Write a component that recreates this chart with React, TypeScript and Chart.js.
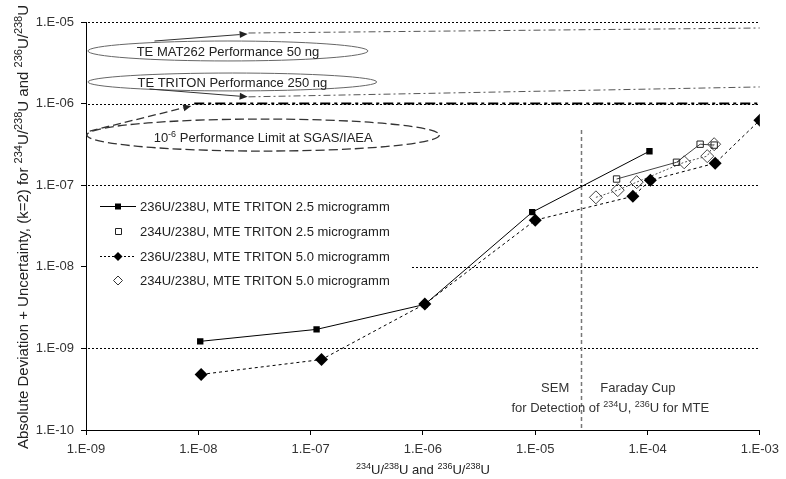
import React, { useEffect, useRef } from 'react';
import { Chart, registerables } from 'chart.js';

Chart.register(...registerables);

const FONT = '"Liberation Sans", Arial, Helvetica, sans-serif';

// ---- axis ticks ----
const xTickValues = [1e-9, 1e-8, 1e-7, 1e-6, 1e-5, 1e-4, 1e-3];
const yTickValues = [1e-10, 1e-9, 1e-8, 1e-7, 1e-6, 1e-5];
const yGridValues = [1e-9, 1e-8, 1e-7, 1e-6, 1e-5];

// ---- series ----
const legendLabels = [
  '236U/238U, MTE TRITON 2.5 microgramm',
  '234U/238U, MTE TRITON 2.5 microgramm',
  '236U/238U, MTE TRITON 5.0 microgramm',
  '234U/238U, MTE TRITON 5.0 microgramm',
];

const u236mte25X = [1.04e-8, 1.13e-7, 1.04e-6, 9.4e-6, 1.04e-4];
const u236mte25Y = [1.22e-9, 1.71e-9, 3.46e-9, 4.67e-8, 2.61e-7];

const u234mte25X = [5.3e-5, 1.81e-4, 2.94e-4, 3.92e-4];
const u234mte25Y = [1.19e-7, 1.91e-7, 3.18e-7, 3.1e-7];

const u236mte50X = [1.06e-8, 1.25e-7, 1.04e-6, 1.0e-5, 7.4e-5, 1.06e-4, 4.0e-4, 1.0e-3];
const u236mte50Y = [4.8e-10, 7.3e-10, 3.5e-9, 3.73e-8, 7.3e-8, 1.15e-7, 1.86e-7, 6.27e-7];

const u234mte50X = [3.47e-5, 5.43e-5, 8.0e-5, 2.12e-4, 3.4e-4, 3.92e-4];
const u234mte50Y = [7.1e-8, 8.7e-8, 1.09e-7, 1.91e-7, 2.27e-7, 3.18e-7];

// ---- performance reference lines ----
const mat262X = [2.8e-8, 1e-3];
const mat262Y = [7.33e-6, 8.44e-6];
const triton250X = [2.8e-8, 1e-3];
const triton250Y = [1.21e-6, 1.6e-6];
const iaeaX = [9.2e-9, 1e-3];
const iaeaY = [1e-6, 1e-6];

// detector switch (SEM / Faraday cup)
const detectorSwitchX = 2.57e-5;
const detectorSwitchY = [1e-10, 4.74e-7];

type Part = [string, boolean];

const ellipseNotes: { x0: number; x1: number; y0: number; y1: number; dashed: boolean; parts: Part[]; dy: number }[] = [
  { x0: 1.04e-9, x1: 3.24e-7, y0: 3.33e-6, y1: 5.85e-6, dashed: false, parts: [['TE MAT262 Performance 50 ng', false]], dy: 0 },
  { x0: 1.04e-9, x1: 3.88e-7, y0: 1.43e-6, y1: 2.37e-6, dashed: false, parts: [['TE TRITON Performance 250 ng', false]], dy: 0 },
  {
    x0: 1.02e-9, x1: 1.4e-6, y0: 2.62e-7, y1: 6.47e-7, dashed: true,
    parts: [['10', false], ['-6', true], [' Performance Limit at SGAS/IAEA', false]], dy: 2,
  },
];

const arrowNotes: { from: [number, number]; to: [number, number]; dashed: boolean }[] = [
  { from: [4.07e-9, 5.85e-6], to: [2.75e-8, 7.13e-6], dashed: false },
  { from: [3.68e-9, 1.51e-6], to: [2.75e-8, 1.21e-6], dashed: false },
  { from: [1.08e-9, 4.61e-7], to: [8.65e-9, 9.35e-7], dashed: true },
];

const xTitle: Part[] = [['234', true], ['U/', false], ['238', true], ['U and ', false], ['236', true], ['U/', false], ['238', true], ['U', false]];
const yTitle: Part[] = [
  ['Absolute Deviation + Uncertainty, (k=2) for ', false], ['234', true], ['U/', false], ['238', true],
  ['U and ', false], ['236', true], ['U/', false], ['238', true], ['U', false],
];
const detectLine: Part[] = [['for Detection of ', false], ['234', true], ['U, ', false], ['236', true], ['U for MTE', false]];

const fmt = (v: number) => {
  const e = Math.round(Math.log10(v));
  return '1.E' + (e < 0 ? '-' : '+') + String(Math.abs(e)).padStart(2, '0');
};

const pts = (xs: number[], ys: number[]) => xs.map((x, i) => ({ x, y: ys[i] }));

function drawRich(ctx: CanvasRenderingContext2D, parts: Part[], x: number, y: number, align: string, size: number) {
  const sup = Math.round(size * 0.7);
  let w = 0;
  parts.forEach(([t, s]) => {
    ctx.font = `${s ? sup : size}px ${FONT}`;
    w += ctx.measureText(t).width;
  });
  let cx = align === 'center' ? x - w / 2 : align === 'right' ? x - w : x;
  ctx.textAlign = 'left';
  ctx.textBaseline = 'alphabetic';
  parts.forEach(([t, s]) => {
    ctx.font = `${s ? sup : size}px ${FONT}`;
    ctx.fillText(t, cx, s ? y - size * 0.4 : y);
    cx += ctx.measureText(t).width;
  });
}

function drawMarker(ctx: CanvasRenderingContext2D, kind: string, x: number, y: number, r: number, filled: boolean, color: string) {
  ctx.beginPath();
  if (kind === 'square') {
    ctx.rect(x - r, y - r, 2 * r, 2 * r);
  } else {
    ctx.moveTo(x - r, y);
    ctx.lineTo(x, y - r);
    ctx.lineTo(x + r, y);
    ctx.lineTo(x, y + r);
    ctx.closePath();
  }
  if (filled) {
    ctx.fillStyle = color;
    ctx.fill();
  } else {
    ctx.strokeStyle = color;
    ctx.lineWidth = 1;
    ctx.stroke();
  }
}

const overlayPlugin = {
  id: 'overlay',
  beforeDatasetsDraw(chart: any) {
    const { ctx, chartArea } = chart;
    const xs = chart.scales.x;
    const ys = chart.scales.y;
    ctx.save();
    // dotted horizontal grid lines
    ctx.strokeStyle = '#000';
    ctx.lineWidth = 1;
    ctx.setLineDash([2, 2]);
    yGridValues.forEach((v) => {
      const py = Math.round(ys.getPixelForValue(v)) + 0.5;
      ctx.beginPath();
      ctx.moveTo(chartArea.left + 2, py);
      ctx.lineTo(chartArea.right, py);
      ctx.stroke();
    });
    // detector switch line
    ctx.strokeStyle = '#777';
    ctx.lineWidth = 1.5;
    ctx.setLineDash([4, 3]);
    const dx = Math.round(xs.getPixelForValue(detectorSwitchX)) + 0.5;
    ctx.beginPath();
    ctx.moveTo(dx, ys.getPixelForValue(detectorSwitchY[1]));
    ctx.lineTo(dx, ys.getPixelForValue(detectorSwitchY[0]));
    ctx.stroke();
    ctx.restore();
  },
  afterDatasetsDraw(chart: any) {
    const { ctx, chartArea } = chart;
    const xs = chart.scales.x;
    const ys = chart.scales.y;
    const X = (v: number) => xs.getPixelForValue(v);
    const Y = (v: number) => ys.getPixelForValue(v);
    ctx.save();

    // ellipses with notes
    ellipseNotes.forEach((e) => {
      const l = X(e.x0), r = X(e.x1), t = Y(e.y1), b = Y(e.y0);
      const cx = (l + r) / 2, cy = (t + b) / 2;
      ctx.beginPath();
      ctx.ellipse(cx, cy, (r - l) / 2, (b - t) / 2, 0, 0, Math.PI * 2);
      ctx.strokeStyle = e.dashed ? '#333' : '#666';
      ctx.lineWidth = e.dashed ? 1.3 : 1;
      ctx.setLineDash(e.dashed ? [9, 4] : []);
      ctx.stroke();
      ctx.setLineDash([]);
      ctx.fillStyle = '#222';
      drawRich(ctx, e.parts, cx, cy + 5 + e.dy, 'center', 13);
    });

    // arrows
    arrowNotes.forEach((a) => {
      const x1 = X(a.from[0]), y1 = Y(a.from[1]), x2 = X(a.to[0]), y2 = Y(a.to[1]);
      const ang = Math.atan2(y2 - y1, x2 - x1);
      const hl = 8, hw = 3.5;
      const bx = x2 - hl * Math.cos(ang), by = y2 - hl * Math.sin(ang);
      ctx.strokeStyle = '#333';
      ctx.lineWidth = a.dashed ? 1.3 : 1;
      ctx.setLineDash(a.dashed ? [8, 4] : []);
      ctx.beginPath();
      ctx.moveTo(x1, y1);
      ctx.lineTo(bx, by);
      ctx.stroke();
      ctx.setLineDash([]);
      ctx.fillStyle = '#222';
      ctx.beginPath();
      ctx.moveTo(x2, y2);
      ctx.lineTo(bx + hw * Math.sin(ang), by - hw * Math.cos(ang));
      ctx.lineTo(bx - hw * Math.sin(ang), by + hw * Math.cos(ang));
      ctx.closePath();
      ctx.fill();
    });

    // detector texts
    const dx = X(detectorSwitchX);
    const base = chartArea.bottom;
    ctx.fillStyle = '#333';
    ctx.font = `13px ${FONT}`;
    ctx.textBaseline = 'alphabetic';
    ctx.textAlign = 'right';
    ctx.fillText('SEM', dx - 12, base - 38);
    ctx.textAlign = 'left';
    ctx.fillText('Faraday Cup', dx + 19, base - 38);
    drawRich(ctx, detectLine, dx + 29, base - 18, 'center', 13);

    // legend
    const lx = chartArea.left + 1;
    const lt = 193;
    ctx.fillStyle = '#fff';
    ctx.fillRect(lx, lt, 323, 103);
    const rows = [206, 231, 256, 280];
    const mx = chartArea.left + 32;
    rows.forEach((ry, i) => {
      if (i === 0 || i === 2) {
        ctx.strokeStyle = '#000';
        ctx.lineWidth = 1;
        ctx.setLineDash(i === 2 ? [2, 2] : []);
        ctx.beginPath();
        ctx.moveTo(mx - 18, ry + 0.5);
        ctx.lineTo(mx + 18, ry + 0.5);
        ctx.stroke();
        ctx.setLineDash([]);
      }
      if (i === 0) drawMarker(ctx, 'square', mx, ry + 0.5, 3, true, '#000');
      if (i === 1) drawMarker(ctx, 'square', mx + 0.5, ry + 0.5, 3, false, '#222');
      if (i === 2) drawMarker(ctx, 'diamond', mx, ry + 0.5, 4.5, true, '#000');
      if (i === 3) drawMarker(ctx, 'diamond', mx, ry + 0.5, 4.5, false, '#333');
      ctx.fillStyle = '#222';
      ctx.font = `13px ${FONT}`;
      ctx.textAlign = 'left';
      ctx.textBaseline = 'middle';
      ctx.fillText(legendLabels[i], mx + 22, ry + 1);
    });

    // axis titles
    ctx.fillStyle = '#222';
    drawRich(ctx, xTitle, (chartArea.left + chartArea.right) / 2, 474, 'center', 13);
    ctx.translate(28, 227);
    ctx.rotate(-Math.PI / 2);
    drawRich(ctx, yTitle, 0, 0, 'center', 15);
    ctx.restore();
  },
};

export default function App() {
  const ref = useRef<HTMLCanvasElement | null>(null);

  useEffect(() => {
    if (!ref.current) return;
    const chart = new Chart(ref.current, {
      type: 'scatter',
      data: {
        datasets: [
          {
            label: legendLabels[0],
            data: pts(u236mte25X, u236mte25Y),
            showLine: true,
            borderColor: '#000',
            borderWidth: 1,
            backgroundColor: '#000',
            pointStyle: 'rect',
            pointRadius: 4.5,
            pointBorderWidth: 0,
          },
          {
            label: legendLabels[1],
            data: pts(u234mte25X, u234mte25Y),
            showLine: true,
            borderColor: '#444',
            borderWidth: 1,
            pointBorderColor: '#222',
            pointBackgroundColor: 'rgba(0,0,0,0)',
            pointStyle: 'rect',
            pointRadius: 4.5,
            pointBorderWidth: 1,
          },
          {
            label: legendLabels[2],
            data: pts(u236mte50X, u236mte50Y),
            showLine: true,
            borderColor: '#000',
            borderWidth: 1,
            borderDash: [3, 3],
            backgroundColor: '#000',
            pointStyle: 'rectRot',
            pointRadius: 6.5,
            pointBorderWidth: 0,
          },
          {
            label: legendLabels[3],
            data: pts(u234mte50X, u234mte50Y),
            showLine: true,
            borderColor: '#555',
            borderWidth: 1,
            borderDash: [2, 2],
            pointBorderColor: '#444',
            pointBackgroundColor: 'rgba(0,0,0,0)',
            pointStyle: 'rectRot',
            pointRadius: 6.5,
            pointBorderWidth: 1,
          },
          {
            label: 'TE MAT262',
            data: pts(mat262X, mat262Y),
            showLine: true,
            borderColor: '#555',
            borderWidth: 1,
            borderDash: [7, 3, 2, 3],
            pointRadius: 0,
          },
          {
            label: 'TE TRITON',
            data: pts(triton250X, triton250Y),
            showLine: true,
            borderColor: '#555',
            borderWidth: 1,
            borderDash: [7, 3, 2, 3],
            pointRadius: 0,
          },
          {
            label: 'IAEA limit',
            data: pts(iaeaX, iaeaY),
            showLine: true,
            borderColor: '#000',
            borderWidth: 2,
            borderDash: [10, 4, 3, 4],
            pointRadius: 0,
          },
        ],
      },
      options: {
        animation: false,
        responsive: false,
        maintainAspectRatio: false,
        layout: { padding: { top: 22, right: 21, bottom: 0, left: 0 } },
        plugins: { legend: { display: false }, tooltip: { enabled: false } },
        scales: {
          x: {
            type: 'logarithmic',
            min: 1e-9,
            max: 1e-3,
            afterBuildTicks: (s: any) => {
              s.ticks = xTickValues.map((v) => ({ value: v }));
            },
            afterFit: (s: any) => {
              s.height = 49;
            },
            ticks: {
              callback: (v: any) => fmt(Number(v)),
              font: { family: FONT, size: 13 },
              color: '#333',
              padding: 7,
              maxRotation: 0,
              autoSkip: false,
            },
            grid: { drawOnChartArea: false, drawTicks: true, tickLength: 5, color: '#000' },
            border: { color: '#000', width: 1 },
          },
          y: {
            type: 'logarithmic',
            min: 1e-10,
            max: 1e-5,
            afterBuildTicks: (s: any) => {
              s.ticks = yTickValues.map((v) => ({ value: v }));
            },
            afterFit: (s: any) => {
              s.width = 86;
            },
            ticks: {
              callback: (v: any) => fmt(Number(v)),
              font: { family: FONT, size: 13 },
              color: '#333',
              padding: 7,
              autoSkip: false,
            },
            grid: { drawOnChartArea: false, drawTicks: true, tickLength: 5, color: '#000' },
            border: { color: '#000', width: 1 },
          },
        },
      },
      plugins: [overlayPlugin],
    } as any);
    return () => chart.destroy();
  }, []);

  return (
    <div style={{ position: 'absolute', left: 0, top: 0, width: 786, height: 479, background: '#fff' }}>
      <canvas ref={ref} width={786} height={479} style={{ display: 'block', width: 786, height: 479 }} />
    </div>
  );
}
